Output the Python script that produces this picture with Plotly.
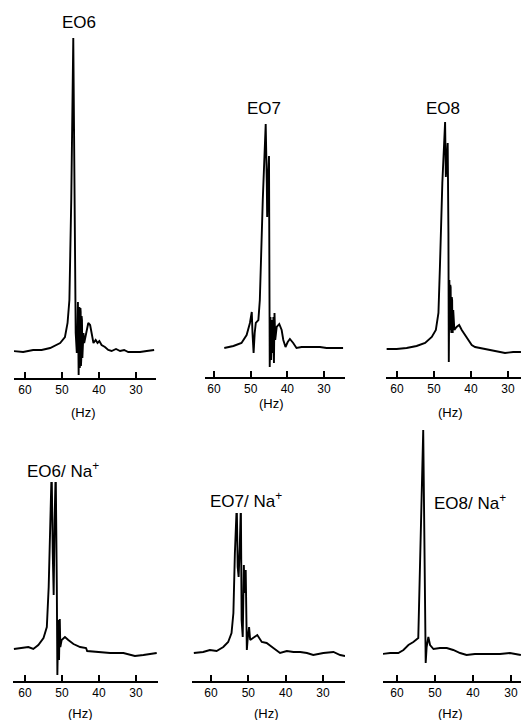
import plotly.graph_objects as go

W, H = 521, 720

# ---------------- data (frequency in Hz, intensity in arbitrary units) ----------------
hz_eo6 = [63.2, 60.5, 57.8, 55.5, 53.2, 50.5, 49.2, 48.5, 48.0, 47.5, 46.95, 46.6, 46.3, 46.0, 45.86, 45.7, 45.5,
          45.4, 45.3, 45.2, 45.1, 45.02, 44.95, 44.88, 44.8, 44.7, 44.6, 44.5, 44.4, 44.2, 44.0, 43.5, 42.9, 42.4,
          42.0, 41.5, 40.9, 40.4, 39.9, 39.3, 38.4, 37.5, 36.6, 35.4, 34.3, 33.2, 32.1, 30.7, 28.9, 27.1, 25.1]
int_eo6 = [27, 26, 28, 28, 30, 35, 41, 55, 78, 178, 340, 178, 45, 25, 38, 76, 3,
           60, 71, 10, 15, 70, 66, 12, 18, 62, 58, 20, 25, 45, 35, 45, 55, 53,
           45, 35, 38, 35, 37, 33, 31, 28, 27, 29, 27, 28, 26, 26, 26, 27, 28]

hz_eo7 = [57.2, 54.7, 52.5, 51.1, 50.2, 49.7, 49.5, 49.2, 48.9, 48.6, 47.9, 47.5, 46.7, 45.9, 45.6,
          45.5, 45.3, 45.0, 44.8, 44.6, 44.4, 44.2, 44.0, 43.8, 43.65, 43.5, 43.3, 42.9, 42.2, 41.55,
          41.1, 40.5, 39.9, 39.3, 38.4, 37.5, 36.1, 34.7, 32.9, 31.1, 29.3, 27.5, 24.8]
int_eo7 = [29, 31, 34, 42, 54, 65, 44, 24, 44, 54, 57, 77, 177, 253, 194,
           160, 194, 221, 10, 60, 17, 57, 24, 60, 14, 64, 37, 50, 53, 47,
           37, 30, 35, 38, 34, 29, 30, 30, 30, 30, 29, 29, 29]

hz_eo8 = [62.8, 60.1, 57.4, 54.7, 52.4, 50.6, 49.5, 48.8, 48.4, 47.75, 47.0, 46.8, 46.6, 46.3, 46.1,
          46.0, 45.85, 45.7, 45.6, 45.5, 45.4, 45.3, 45.2, 45.1, 45.02, 44.95, 44.8, 44.5, 43.9, 43.2,
          42.5, 41.6, 40.7, 39.8, 38.9, 37.6, 35.8, 34.0, 32.2, 30.8, 28.6, 26.5]
int_eo8 = [28, 28, 29, 31, 34, 40, 47, 64, 110, 194, 255, 200, 214, 234, 144,
           15, 97, 47, 92, 90, 50, 44, 80, 77, 46, 44, 67, 47, 50, 52,
           47, 42, 36, 32, 30, 29, 28, 26, 25, 24, 25, 25]

hz_eo6na = [63.0, 61.4, 59.1, 57.75, 56.4, 55.0, 54.1, 53.6, 53.05, 52.8, 52.5, 52.25, 52.0, 51.7, 51.4,
            51.25, 51.0, 50.8, 50.6, 50.45, 50.1, 49.2, 48.3, 46.9, 45.1, 43.5, 43.2, 40.6, 37.0, 33.4,
            30.3, 28.0, 24.4]
int_eo6na = [32, 33, 34, 32, 36, 43, 54, 94, 178, 211, 128, 86, 161, 211, 94,
             6, 61, 21, 62, 34, 41, 44, 41, 37, 34, 33, 30, 29, 28, 28,
             25, 26, 28]

hz_eo7na = [64.6, 62.1, 60.3, 58.5, 56.7, 55.4, 54.5, 54.0, 53.6, 53.1, 52.85, 52.6, 52.3, 52.0, 51.8,
            51.5, 51.2, 51.0, 50.7, 50.4, 50.2, 49.8, 49.5, 48.65, 47.6, 46.4, 45.1, 43.3, 41.5, 39.7,
            37.9, 36.1, 34.3, 32.6, 29.9, 27.2, 25.4, 24.1]
int_eo7na = [28, 29, 31, 30, 34, 39, 48, 68, 128, 176, 114, 104, 134, 176, 61,
             44, 116, 88, 111, 31, 41, 54, 41, 43, 46, 39, 38, 33, 28, 30,
             29, 29, 28, 26, 28, 29, 26, 25]

hz_eo8na = [64.0, 61.8, 59.65, 58.3, 57.0, 55.7, 54.4, 53.1, 52.45, 52.2, 51.75, 51.3, 50.4, 48.7, 46.9,
            45.2, 43.4, 41.7, 39.5, 36.4, 32.9, 30.3, 27.4]
int_eo8na = [27, 28, 28, 31, 36, 39, 43, 251, 18, 34, 44, 36, 32, 33, 33,
             31, 28, 26, 27, 27, 27, 28, 26]

titles = ["EO6", "EO7", "EO8", "EO6/ Na<sup>+</sup>", "EO7/ Na<sup>+</sup>", "EO8/ Na<sup>+</sup>"]
tick_vals = [60, 50, 40, 30]
tick_text = ["60", "50", "40", "30"]
unit_label = "(Hz)"

series = [(hz_eo6, int_eo6), (hz_eo7, int_eo7), (hz_eo8, int_eo8),
          (hz_eo6na, int_eo6na), (hz_eo7na, int_eo7na), (hz_eo8na, int_eo8na)]

# ---------------- layout geometry (pixels) ----------------
# box = (left, right, top, bottom); px60/px30 = pixel x of 60 and 30 Hz ticks
geom = [
    dict(box=(14, 156, 35, 378), px60=25, px30=136, title=(79, 22), unit=(83, 412)),
    dict(box=(205, 345, 120, 377), px60=214, px30=324, title=(264, 108), unit=(271, 403)),
    dict(box=(386, 521, 118, 377), px60=397, px30=508, title=(443, 108), unit=(450, 412)),
    dict(box=(13, 158, 482, 681), px60=25, px30=136, title=(63, 470), unit=(80, 713)),
    dict(box=(192, 345, 513, 681), px60=211, px30=323, title=(246, 500), unit=(266, 713)),
    dict(box=(383, 521, 427, 681), px60=397, px30=511, title=(470, 502), unit=(450, 713)),
]

FONT = "Liberation Sans, Arial, sans-serif"
fig = go.Figure()
layout = dict(width=W, height=H, margin=dict(l=0, r=0, t=0, b=0),
              paper_bgcolor="white", plot_bgcolor="white", showlegend=False,
              annotations=[])

for i, ((hz, inten), g) in enumerate(zip(series, geom)):
    n = "" if i == 0 else str(i + 1)
    l, r, t, b = g["box"]
    scale = 30.0 / (g["px30"] - g["px60"])

    def hz_at(px, g=g, scale=scale):
        return 60 - (px - g["px60"]) * scale

    fig.add_trace(go.Scatter(x=hz, y=inten, mode="lines",
                             line=dict(color="black", width=1.9),
                             xaxis="x" + n, yaxis="y" + n, hoverinfo="skip"))
    layout["xaxis" + n] = dict(domain=[l / W, r / W], range=[hz_at(l), hz_at(r)],
                               anchor="y" + n, showline=True, linecolor="black", linewidth=1.8,
                               ticks="inside", ticklen=6, tickwidth=1.8, tickcolor="black",
                               tickvals=tick_vals, ticktext=tick_text,
                               tickfont=dict(family=FONT, size=12, color="black"),
                               showgrid=False, zeroline=False, fixedrange=True)
    layout["yaxis" + n] = dict(domain=[1 - b / H, 1 - t / H], range=[0, b - t],
                               anchor="x" + n, visible=False, showgrid=False,
                               zeroline=False, fixedrange=True)
    tx, ty = g["title"]
    layout["annotations"].append(dict(text=titles[i], x=tx / W, y=1 - ty / H,
                                      xref="paper", yref="paper", showarrow=False,
                                      xanchor="center", yanchor="middle",
                                      font=dict(family=FONT, size=17, color="black")))
    ux, uy = g["unit"]
    layout["annotations"].append(dict(text=unit_label, x=ux / W, y=1 - uy / H,
                                      xref="paper", yref="paper", showarrow=False,
                                      xanchor="center", yanchor="middle",
                                      font=dict(family=FONT, size=13, color="black")))

fig.update_layout(**layout)
fig.write_html("out.html")
